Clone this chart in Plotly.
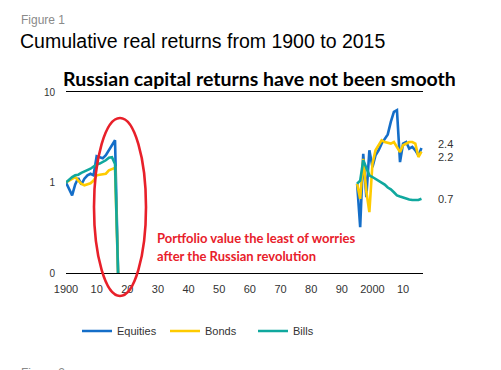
import plotly.graph_objects as go

# ---------------- data ----------------
early_years = list(range(1900, 1918))
early_equities = [1.0, 0.85, 0.72, 0.95, 1.12, 0.95, 1.1, 1.2, 1.25, 1.2, 1.95, 1.9, 1.85, 2.0, 2.3, 2.55, 2.93, 0.1]
early_bonds = [1.0, 1.05, 1.08, 1.15, 1.05, 0.97, 0.93, 0.95, 0.98, 1.05, 1.2, 1.22, 1.23, 1.25, 1.36, 1.4, 1.45, 0.1]
early_bills = [1.0, 1.08, 1.15, 1.2, 1.22, 1.28, 1.32, 1.38, 1.42, 1.5, 1.58, 1.62, 1.68, 1.76, 1.88, 1.9, 1.6, 0.1]

late_years = list(range(1995, 2017))
late_equities = [0.97, 0.32, 2.08, 0.69, 2.27, 1.48, 1.99, 2.27, 2.69, 3.0, 3.4, 4.68, 6.04, 6.3,
                 1.68, 2.69, 2.8, 2.37, 2.47, 2.27, 1.99, 2.4]
late_bonds = [0.97, 0.66, 1.83, 0.8, 0.47, 1.61, 2.27, 2.58, 2.93, 2.8, 2.75, 2.69, 2.8, 2.47,
              2.17, 2.58, 2.69, 2.8, 2.8, 2.69, 1.91, 2.2]
late_bills = [0.97, 1.05, 1.76, 1.45, 1.2, 1.15, 1.1, 1.05, 1.0, 0.95, 0.88, 0.84, 0.78, 0.72,
              0.7, 0.68, 0.66, 0.65, 0.64, 0.64, 0.64, 0.66]

series_names = ["Equities", "Bonds", "Bills"]
series_colors = ["#146ec8", "#fecb00", "#10a89e"]
end_labels = ["2.4", "2.2", "0.7"]

x_tick_vals = list(range(1900, 2011, 10))
x_tick_text = ["1900", "10", "20", "30", "40", "50", "60", "70", "80", "90", "2000", "10"]
y_tick_vals = [0.1, 1, 10]
y_tick_text = ["0", "1", "10"]

# ---------------- figure ----------------
OFF = 8  # page body margin
W, H = 501 - OFF, 370 - OFF
L, R, T, B = 66 - OFF, 78, 92 - OFF, 97
PW, PH = W - L - R, H - T - B


def px_x(p):
    # p: page pixel x
    return (p - OFF - L) / PW


def px_y(p):
    # p: page pixel y
    return (H - B - (p - OFF)) / PH


fig = go.Figure()

early = [early_equities, early_bonds, early_bills]
late = [late_equities, late_bonds, late_bills]
for name, color, e, l in zip(series_names, series_colors, early, late):
    xs = early_years + [None] + late_years
    ys = e + [None] + l
    fig.add_trace(go.Scatter(x=xs, y=ys, mode="lines", name=name,
                             line=dict(color=color, width=2.6),
                             connectgaps=False))

# thick line at 1
fig.add_shape(type="line", xref="paper", yref="y", x0=0, x1=1, y0=0, y1=0,
              line=dict(color="black", width=3), layer="below")

# red ellipse
fig.add_shape(type="circle", xref="paper", yref="paper",
              x0=px_x(94), x1=px_x(146), y0=px_y(296), y1=px_y(118),
              line=dict(color="#e8202a", width=2.6))

anns = [
    dict(text="Figure 1", x=px_x(19), y=px_y(20), font=dict(size=12, color="#8a8a8a", family="Liberation Sans"),
         xanchor="left", yanchor="middle"),
    dict(text="Cumulative real returns from 1900 to 2015", x=px_x(18), y=px_y(41),
         font=dict(size=19.5, color="#000000", family="Liberation Sans"), xanchor="left", yanchor="middle"),
    dict(text="<b>Russian capital returns have not been smooth</b>", x=px_x(260), y=px_y(78),
         font=dict(size=19.5, color="#000000", family="Lato"), xanchor="center", yanchor="middle"),
    dict(text="<b>Portfolio value the least of worries</b>", x=px_x(155), y=px_y(238),
         font=dict(size=13, color="#e8202a", family="Lato"), xanchor="left", yanchor="middle"),
    dict(text="<b>after the Russian revolution</b>", x=px_x(155), y=px_y(256),
         font=dict(size=13, color="#e8202a", family="Lato"), xanchor="left", yanchor="middle"),
    dict(text="Figure 2", x=px_x(19), y=px_y(373), font=dict(size=12, color="#8a8a8a", family="Liberation Sans"),
         xanchor="left", yanchor="middle"),
]
for txt, yy in zip(end_labels, [144, 157, 199]):
    anns.append(dict(text=txt, x=px_x(436), y=px_y(yy), font=dict(size=11, color="#333333", family="Liberation Sans"),
                     xanchor="left", yanchor="middle"))
for a in anns:
    fig.add_annotation(xref="paper", yref="paper", showarrow=False, **a)

fig.update_layout(
    width=W, height=H,
    margin=dict(l=L, r=R, t=T, b=B, pad=0),
    plot_bgcolor="white", paper_bgcolor="white",
    font=dict(family="Liberation Sans", size=11, color="#333333"),
    showlegend=True,
    legend=dict(orientation="h", x=px_x(77), y=px_y(331), xanchor="left", yanchor="middle",
                font=dict(size=11, color="#333333"), entrywidth=43, entrywidthmode="pixels",
                bgcolor="rgba(0,0,0,0)"),
    xaxis=dict(range=[1900, 2016.5], tickvals=x_tick_vals, ticktext=x_tick_text,
               showgrid=False, zeroline=False, showline=True, mirror=True, linecolor="black", linewidth=1,
               ticks="", ticklabelstandoff=6, automargin=False, tickfont=dict(size=11, color="#333333")),
    yaxis=dict(type="log", range=[-1, 1], tickvals=y_tick_vals, ticktext=y_tick_text,
               showgrid=False, zeroline=False, showline=False, ticks="", ticklabelstandoff=10,
               automargin=False, tickfont=dict(size=10, color="#333333")),
)

fig.write_html("out.html")
